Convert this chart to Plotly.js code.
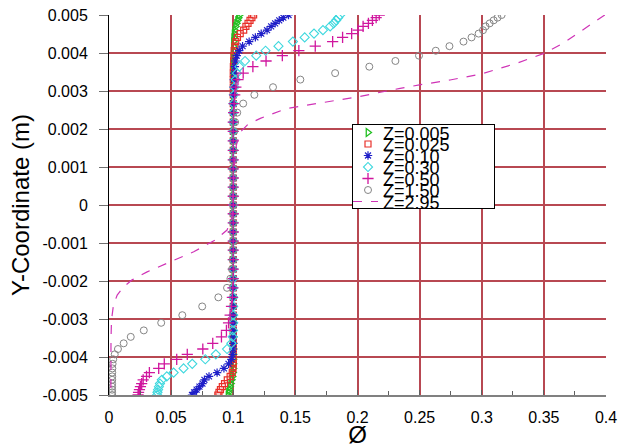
<!DOCTYPE html>
<html>
<head>
<meta charset="utf-8">
<script src="https://cdn.plot.ly/plotly-3.0.1.min.js"></script>
<style>
html,body{margin:0;padding:0;background:#fff;}
#chart{width:623px;height:448px;}
</style>
</head>
<body>
<div id="chart"></div>
<script>
// Mesh y-coordinates (m), top wall to bottom wall
const yCoord = [
  0.005, 0.00493, 0.00486, 0.00478, 0.0047, 0.0046, 0.00451, 0.00441, 0.0043, 0.00418,
  0.00406, 0.00393, 0.00379, 0.00364, 0.00347, 0.0033, 0.0031, 0.0029, 0.00267, 0.00243,
  0.00218, 0.00194, 0.00169, 0.00144, 0.00119, 0.00095, 0.00071, 0.00047, 0.00023,
  0,
  -0.00023, -0.00047, -0.00071, -0.00095, -0.00119, -0.00144, -0.00169, -0.00194, -0.00218,
  -0.00243, -0.00267, -0.0029, -0.0031, -0.0033, -0.00347, -0.00364, -0.00379, -0.00393,
  -0.00406, -0.00418, -0.0043, -0.00441, -0.00451, -0.0046, -0.0047, -0.00478, -0.00486,
  -0.00493, -0.005
];

// Volume fraction profiles at each z
const phiZ0005 = [
  0.105, 0.1042, 0.1035, 0.1027, 0.1019, 0.1012, 0.1007, 0.1004, 0.1002, 0.1001,
  0.1, 0.1, 0.1, 0.1, 0.1, 0.1, 0.1, 0.1, 0.1, 0.1,
  0.1, 0.1, 0.1, 0.1, 0.1, 0.1, 0.1, 0.1, 0.1,
  0.1,
  0.1, 0.1, 0.1, 0.1, 0.1, 0.1, 0.1, 0.1, 0.1, 0.1,
  0.1, 0.1, 0.1, 0.1, 0.1, 0.1, 0.1, 0.1, 0.1, 0.1,
  0.1, 0.0997, 0.0993, 0.0987, 0.098, 0.0973, 0.0967, 0.0962, 0.0958
];
const phiZ0025 = [
  0.1164, 0.115, 0.1135, 0.1119, 0.1102, 0.1084, 0.1056, 0.1034, 0.102, 0.1013,
  0.1008, 0.1005, 0.1003, 0.1001, 0.1, 0.1, 0.1, 0.1, 0.1, 0.1,
  0.1, 0.1, 0.1, 0.1, 0.1, 0.1, 0.1, 0.1, 0.1,
  0.1,
  0.1, 0.1, 0.1, 0.1, 0.1, 0.1, 0.1, 0.1, 0.1, 0.1,
  0.1, 0.1, 0.1, 0.1, 0.1, 0.1, 0.1, 0.1, 0.1, 0.1,
  0.0998, 0.0992, 0.0975, 0.0952, 0.093, 0.0912, 0.0897, 0.0885, 0.0876
];
const phiZ010 = [
  0.1445, 0.1403, 0.137, 0.1337, 0.1305, 0.1272, 0.1225, 0.1178, 0.1128, 0.1075,
  0.1048, 0.1028, 0.1018, 0.1013, 0.1008, 0.1005, 0.1003, 0.1001, 0.1, 0.1,
  0.1, 0.1, 0.1, 0.1, 0.1, 0.1, 0.1, 0.1, 0.1,
  0.1,
  0.1, 0.1, 0.1, 0.1, 0.1, 0.1, 0.1, 0.1, 0.1, 0.1,
  0.1, 0.1, 0.1, 0.1, 0.1, 0.1, 0.0999, 0.0995, 0.0985, 0.0962,
  0.0925, 0.087, 0.0805, 0.0768, 0.0752, 0.0728, 0.0705, 0.0685, 0.0668
];
const phiZ030 = [
  0.186, 0.1845, 0.1828, 0.1808, 0.178, 0.1722, 0.165, 0.1575, 0.148, 0.1364,
  0.126, 0.1185, 0.1095, 0.105, 0.103, 0.102, 0.1011, 0.1005, 0.1002, 0.1,
  0.1, 0.1, 0.1, 0.1, 0.1, 0.1, 0.1, 0.1, 0.1,
  0.1,
  0.1, 0.1, 0.1, 0.1, 0.1, 0.1, 0.1, 0.1, 0.1, 0.1,
  0.1, 0.1, 0.1, 0.0998, 0.0995, 0.0985, 0.095, 0.086, 0.0775, 0.067,
  0.06, 0.052, 0.0465, 0.0425, 0.041, 0.0402, 0.0395, 0.039, 0.0387
];
const phiZ050 = [
  0.2175, 0.215, 0.212, 0.2088, 0.2045, 0.2005, 0.1953, 0.188, 0.18, 0.166,
  0.1528, 0.1395, 0.1264, 0.1158, 0.108, 0.1038, 0.1021, 0.1012, 0.1007, 0.1003,
  0.1, 0.1, 0.1, 0.1, 0.1, 0.1, 0.1, 0.1, 0.1,
  0.1,
  0.1, 0.1, 0.1, 0.1, 0.1, 0.1, 0.1, 0.1, 0.0997, 0.0993,
  0.0986, 0.0975, 0.0962, 0.0945, 0.0905, 0.0835, 0.0755, 0.063, 0.0545, 0.0445,
  0.04, 0.0325, 0.0302, 0.0275, 0.0263, 0.0253, 0.0245, 0.0238, 0.0234
];
const phiZ150 = [
  0.316, 0.3127, 0.3096, 0.3064, 0.3031, 0.301, 0.2975, 0.2918, 0.2853, 0.274,
  0.263, 0.2495, 0.2305, 0.2095, 0.182, 0.154, 0.132, 0.117, 0.108, 0.1032,
  0.1015, 0.1008, 0.1004, 0.1002, 0.1, 0.1, 0.1, 0.1, 0.1,
  0.1,
  0.1, 0.1, 0.1, 0.1, 0.0999, 0.0996, 0.099, 0.0977, 0.095, 0.088,
  0.075, 0.059, 0.042, 0.028, 0.0175, 0.0118, 0.0072, 0.0046, 0.0034, 0.0029,
  0.0027, 0.0026, 0.0026, 0.0026, 0.0025, 0.0025, 0.0025, 0.0025, 0.0025
];

// z = 2.95 profile (dashed line)
const yZ295 = [
  0.005, 0.00456, 0.00426, 0.00399, 0.00373, 0.00345, 0.00329, 0.00316, 0.00307, 0.00285,
  0.00254, 0.00228, 0.00213, 0.00192, 0.00158, 0.00105, 0.0004, 0, -0.00032, -0.00066,
  -0.00092, -0.00123, -0.00153, -0.00176, -0.00197, -0.00215, -0.00237, -0.00263, -0.00303,
  -0.00355, -0.005
];
const phiZ295 = [
  0.399, 0.379, 0.3656, 0.3501, 0.3281, 0.3, 0.2745, 0.2498, 0.2343, 0.2008,
  0.1432, 0.1218, 0.1121, 0.1057, 0.1025, 0.1009, 0.1001, 0.0995, 0.099, 0.095,
  0.0856, 0.0682, 0.0468, 0.0307, 0.0186, 0.0119, 0.0066, 0.0036, 0.002,
  0.0016, 0.0015
];

const seriesNames = ['Z=0.005', 'Z=0.025', 'Z=0.10', 'Z=0.30', 'Z=0.50', 'Z=1.50', 'Z=2.95'];
const yTickVals = [0.005, 0.004, 0.003, 0.002, 0.001, 0, -0.001, -0.002, -0.003, -0.004, -0.005];
const yTickText = ['0.005', '0.004', '0.003', '0.002', '0.001', '0', '-0.001', '-0.002', '-0.003', '-0.004', '-0.005'];
const xTickVals = [0, 0.05, 0.1, 0.15, 0.2, 0.25, 0.3, 0.35, 0.4];
const xTickText = ['0', '0.05', '0.1', '0.15', '0.2', '0.25', '0.3', '0.35', '0.4'];

const FONT = 'Liberation Sans, Arial, sans-serif';

function mk(x, name, symbol, color, size, lw) {
  return {
    type: 'scatter', mode: 'markers', x: x, y: yCoord, name: name,
    marker: {symbol: symbol, color: color, size: size, line: {color: color, width: lw}}
  };
}

const data = [
  mk(phiZ0005, seriesNames[0], 'triangle-right-open', '#22c022', 7, 1.3),
  mk(phiZ0025, seriesNames[1], 'square-open', '#e8302a', 6, 1.2),
  mk(phiZ010, seriesNames[2], 'asterisk-open', '#1f1fc8', 7, 1.2),
  mk(phiZ030, seriesNames[3], 'diamond-open', '#3ed8de', 7, 1.1),
  mk(phiZ050, seriesNames[4], 'cross-thin-open', '#d0169e', 8, 1.3),
  mk(phiZ150, seriesNames[5], 'circle-open', '#858585', 7, 1),
  {
    type: 'scatter', mode: 'lines', x: phiZ295, y: yZ295, name: seriesNames[6],
    line: {color: '#cf33b6', width: 1.2, dash: 'dash'}
  }
];

const gridColor = 'rgb(184,72,82)';

const layout = {
  width: 623, height: 448,
  margin: {l: 109, r: 17, t: 15, b: 53},
  paper_bgcolor: '#ffffff', plot_bgcolor: '#ffffff',
  font: {family: FONT, size: 16, color: '#000'},
  showlegend: true,
  legend: {
    x: 0.49, y: 0.7, xanchor: 'left', yanchor: 'top',
    bgcolor: '#ffffff', bordercolor: '#000', borderwidth: 1,
    font: {family: FONT, size: 18, color: '#000'},
    traceorder: 'normal'
  },
  xaxis: {
    range: [0, 0.4], tickvals: xTickVals, ticktext: xTickText,
    showgrid: true, gridcolor: gridColor, gridwidth: 2, zeroline: false,
    showline: true, linecolor: '#808080', linewidth: 2,
    ticks: 'inside', ticklen: 5, tickcolor: '#606060',
    minor: {dtick: 0.025, ticks: 'inside', ticklen: 4, tickcolor: '#606060', showgrid: false},
    ticklabelstandoff: 7,
    tickfont: {family: FONT, size: 16, color: '#000'},
    title: {text: 'Ø', font: {family: FONT, size: 24, color: '#000'}, standoff: 4}
  },
  yaxis: {
    range: [-0.005, 0.005], tickvals: yTickVals, ticktext: yTickText,
    showgrid: true, gridcolor: gridColor, gridwidth: 2, zeroline: false,
    showline: true, linecolor: '#000', linewidth: 1,
    ticks: 'outside', ticklen: 9, tickcolor: '#707070',
    ticklabelstandoff: 8,
    tickfont: {family: FONT, size: 16, color: '#000'},
    title: {text: 'Y-Coordinate (m)', font: {family: FONT, size: 24, color: '#000'}, standoff: 6}
  }
};

const gd = document.getElementById('chart');
Plotly.newPlot(gd, data, layout, {staticPlot: true, displayModeBar: false}).then(function () {
  const leg = gd.querySelector('g.legend');
  if (!leg) return;
  const items = leg.querySelectorAll('g.traces');
  const rowH = 11.5, top0 = 8.5;
  items.forEach(function (g, i) {
    g.setAttribute('transform', 'translate(-4,' + (top0 + i * rowH) + ')');
    const t = g.querySelector('text.legendtext');
    if (t) t.setAttribute('x', 35);
    const ln = g.querySelector('.legendlines path');
    if (ln) ln.setAttribute('d', 'M5,0h25');
  });
  const bg = leg.querySelector('rect.bg');
  if (bg) { bg.setAttribute('width', 142); bg.setAttribute('height', 84); }
  leg.setAttribute('transform', 'translate(352,124)');
});
</script>
</body>
</html>
